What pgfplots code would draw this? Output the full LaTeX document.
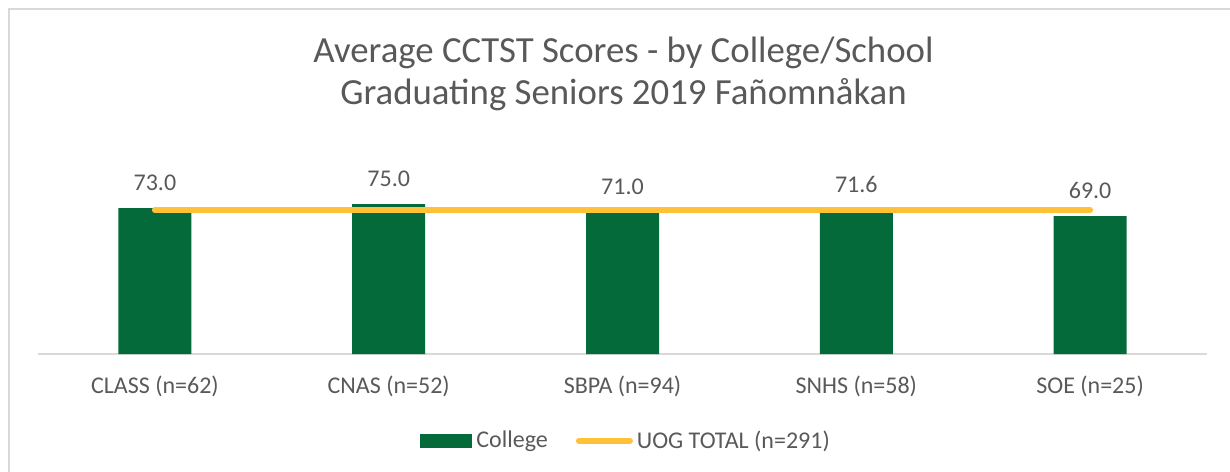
\documentclass[border=0pt]{standalone}
\usepackage{pgfplots}
\pgfplotsset{compat=1.18}
\usepackage{fontspec}
\setmainfont{Carlito}

\definecolor{collgreen}{RGB}{5,106,57}
\definecolor{uoggold}{RGB}{255,193,55}
\definecolor{textgray}{RGB}{89,89,89}
\definecolor{axisgray}{RGB}{217,217,217}

\newcommand{\labelfont}{\fontsize{12bp}{14bp}\selectfont}
\newcommand{\titlefont}{\fontsize{18.4bp}{21bp}\selectfont}

\begin{document}
\begin{tikzpicture}
\useasboundingbox (0,0) rectangle (615bp,236bp);
% chart frame (only left and top edges are in view)
\draw[axisgray, line width=1bp] (4.5bp,0bp) -- (4.5bp,231.65bp) -- (615bp,231.65bp);

\node[anchor=base, font=\titlefont, text=textgray] at (311.75bp,204.5bp)
  {Average CCTST Scores - by College/School};
\node[anchor=base, font=\titlefont, text=textgray] at (311.75bp,183.5bp)
  {Graduating Seniors 2019 Fañomnåkan};

\begin{axis}[
  at={(19bp,59bp)}, anchor=south west,
  x=116.9bp, y=1bp,
  xmin=-0.5, xmax=4.5,
  ymin=0, ymax=90,
  clip=false,
  axis x line*=bottom,
  axis y line=none,
  axis line style={draw=axisgray, line width=1bp, -},
  xtick={0,1,2,3,4},
  xticklabels={CLASS (n=62), CNAS (n=52), SBPA (n=94), SNHS (n=58), SOE (n=25)},
  major tick length=0pt,
  xtick style={draw=none},
  xticklabel style={font=\labelfont, text=textgray, anchor=base, yshift=-19.5bp},
  /pgf/number format/assume math mode=true,
  legend columns=2,
  legend style={
    at={(axis description cs:0.3268,-0.483)}, anchor=west,
    draw=none, fill=none, inner sep=0pt,
    font=\labelfont, text=textgray,
    nodes={inner sep=2bp},
    /tikz/every even column/.append style={column sep=12bp},
  },
]
% average score of each college / school
\addplot[ybar, bar width=36.5bp, bar shift=0pt, fill=collgreen, draw=none,
  nodes near coords={\pgfmathprintnumber[fixed,fixed zerofill,precision=1]{\pgfplotspointmeta}},
  nodes near coords style={font=\labelfont, text=textgray, anchor=base, yshift=9bp},
  legend image code/.code={\fill[collgreen] (0bp,-3.5bp) rectangle (26bp,3.5bp);}]
  coordinates {(0,73.0) (1,75.0) (2,71.0) (3,71.6) (4,69.0)};
\addlegendentry{College}
% university-wide average
\addplot[uoggold, line width=3bp, line cap=round,
  legend image code/.code={\draw[uoggold, line width=3bp, line cap=round] (1.5bp,0bp) -- (27bp,0bp);}]
  coordinates {(0,72.0) (4,72.0)};
\addlegendentry{UOG TOTAL (n=291)}
\end{axis}
\end{tikzpicture}
\end{document}
